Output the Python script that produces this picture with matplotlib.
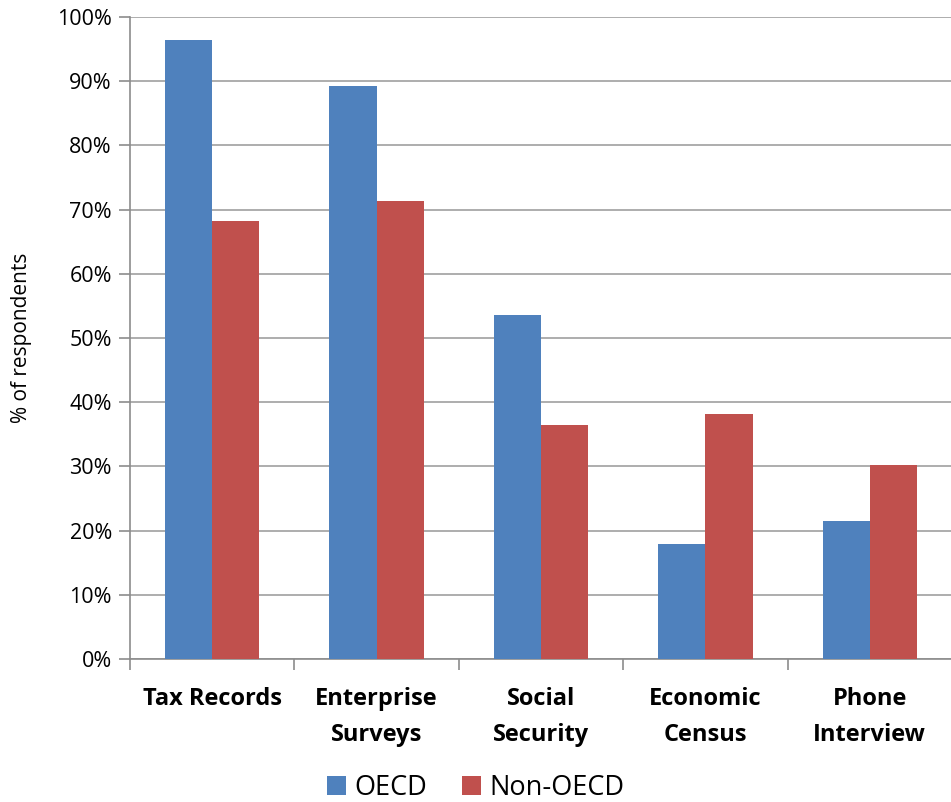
import matplotlib
matplotlib.use("Agg")
import matplotlib.pyplot as plt
import numpy as np

categories = ["Tax Records", "Enterprise\nSurveys", "Social\nSecurity", "Economic\nCensus", "Phone\nInterview"]
oecd = [96.4, 89.3, 53.6, 17.9, 21.5]
non_oecd = [68.2, 71.3, 36.4, 38.2, 30.2]
series_names = ["OECD", "Non-OECD"]
yticks = [0, 10, 20, 30, 40, 50, 60, 70, 80, 90, 100]

plt.rcParams['font.family'] = ['Open Sans', 'DejaVu Sans']

fig = plt.figure(figsize=(9.51, 8.02), dpi=100)
ax = fig.add_axes([130/951, 143/802, (952-130)/951, (659-17)/802])

x = np.arange(len(categories))
w = 0.287
b1 = ax.bar(x - w/2, oecd, w, color="#4F81BD", label=series_names[0], zorder=3)
b2 = ax.bar(x + w/2, non_oecd, w, color="#C0504D", label=series_names[1], zorder=3)

ax.set_xlim(-0.5, len(categories) - 0.5)
ax.set_ylim(0, 100)
ax.set_yticks(yticks)
ax.set_yticklabels([f"{v}%" for v in yticks], fontsize=15.5)
ax.yaxis.grid(True, color="#A0A0A0", linewidth=1.2, zorder=0)
ax.set_axisbelow(True)

ax.set_xticks(np.arange(len(categories) + 1) - 0.5, minor=False)
ax.set_xticklabels([])
ax.set_xticks(x, minor=True)
ax.set_xticklabels(categories, minor=True, fontsize=17, fontweight="bold", linespacing=1.7)
ax.tick_params(axis="x", which="major", length=8, color="#8C8C8C", width=1.2)
ax.tick_params(axis="x", which="minor", length=0, pad=20)
ax.tick_params(axis="y", length=8, color="#8C8C8C", width=1.2, pad=5)

for s in ["top", "right"]:
    ax.spines[s].set_visible(False)
for s in ["left", "bottom"]:
    ax.spines[s].set_color("#8C8C8C")
    ax.spines[s].set_linewidth(1.2)

ax.set_ylabel("% of respondents", fontsize=15, labelpad=18)

fig.legend(handles=[b1, b2], labels=series_names, loc="lower center",
           bbox_to_anchor=(0.5, -0.03), ncol=2, frameon=False, fontsize=19.5,
           handlelength=0.7, handleheight=0.7, handletextpad=0.3, columnspacing=1.3)

fig.savefig("out.png", dpi=100)
